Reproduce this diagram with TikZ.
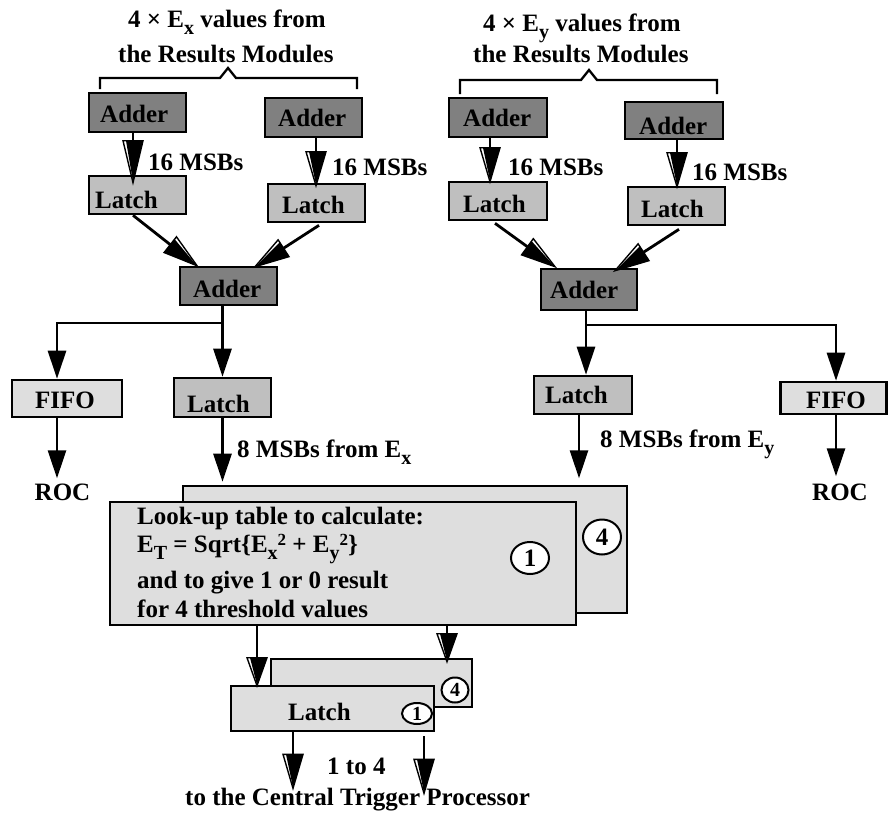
\documentclass[tikz,border=0pt]{standalone}
\usepackage{fontspec}
\setmainfont{Liberation Serif}
\usetikzlibrary{arrows.meta,calc,shapes.geometric}
\definecolor{addergray}{gray}{0.5}
\definecolor{latchgray}{gray}{0.75}
\definecolor{palegray}{gray}{0.87}
\newcommand\lsub[1]{\raisebox{-7pt}{\fontsize{20}{20}\selectfont #1}}
\newcommand\lsup[1]{\raisebox{7pt}{\fontsize{17}{17}\selectfont #1}}
\newcommand\mkhollow[5]{%
\pgfdeclarearrow{
  name=#1,
  parameters={},
  setup code={%
    \pgfarrowssettipend{0pt}%
    \pgfarrowssetlineend{-#4}%
    \pgfarrowssetvisualbackend{-#2}%
    \pgfarrowssetbackend{-#2}%
    \pgfarrowshullpoint{0pt}{0pt}%
    \pgfarrowshullpoint{-#2}{#3}%
    \pgfarrowshullpoint{-#2}{-#3}%
  },
  drawing code={%
    \pgfsetlinewidth{1.4pt}%
    \pgfsetmiterjoin
    \pgfsetfillcolor{white}%
    \pgfpathmoveto{\pgfpoint{0pt}{0pt}}%
    \pgfpathlineto{\pgfpoint{-#2}{#3}}%
    \pgfpathlineto{\pgfpoint{-#2}{-#3}}%
    \pgfpathclose
    \pgfusepathqfillstroke
    \pgfsetfillcolor{black}%
    \pgfpathmoveto{\pgfpoint{-1pt}{0pt}}%
    \pgfpathlineto{\pgfpoint{-#2}{#5*#3}}%
    \pgfpathlineto{\pgfpoint{-#2}{-0.7*#5*#3}}%
    \pgfpathclose
    \pgfusepathqfill
  }
}}
\mkhollow{hollowA}{42pt}{10pt}{41.5pt}{1}
\mkhollow{hollowB}{34pt}{10pt}{33.5pt}{1}
\mkhollow{hollowBm}{34pt}{10pt}{33.5pt}{-1}
\mkhollow{hollowC}{28pt}{10pt}{27.5pt}{1}
\tikzset{
  box/.style={draw, line width=2.6pt, inner sep=0pt, rectangle},
  lbl/.style={anchor=base west, inner sep=0pt, font=\bfseries\fontsize{25}{30}\selectfont},
  cbl/.style={anchor=base, inner sep=0pt, font=\bfseries\fontsize{25}{30}\selectfont},
  con/.style={line width=2.8pt},
  sol/.style={con, -{Triangle[length=28pt,width=18pt]}},
  hA/.style={con, -hollowA},
  hB/.style={con, -hollowB},
  hBm/.style={con, -hollowBm},
  hC/.style={con, -hollowC},
  brace/.style={line width=2.3pt},
  num/.style={draw, ellipse, fill=white, line width=2pt, inner sep=0pt, font=\bfseries\fontsize{25}{25}\selectfont},
  snum/.style={draw, ellipse, fill=white, line width=2pt, inner sep=0pt, font=\bfseries\fontsize{20}{20}\selectfont}
}
\begin{document}
\begin{tikzpicture}[x=1pt,y=-1pt]
\useasboundingbox (0,0) rectangle (889,814);
\fill[white] (0,0) rectangle (889,814);

% titles and braces
\node[lbl] (t1a) at (128,27) {4 × E\lsub{x} values from};
\node[lbl] (t1b) at (118,62) {the Results Modules};
\node[lbl] (t2a) at (483,31) {4 × E\lsub{y} values from};
\node[lbl] (t2b) at (473,62) {the Results Modules};
\draw[brace] (100,89) |- (220,78) -- (228,68) -- (236,78) -| (357,89);
\draw[brace] (460,94) |- (581,80) -- (589,70) -- (597,80) -| (717,94);

% boxes left
\node[box, fill=addergray, minimum width=97pt, minimum height=39pt] (a1) at (137.5,112.5) {};
\node[box, fill=latchgray, minimum width=97pt, minimum height=38pt] (l1) at (137.5,195) {};
\node[box, fill=addergray, minimum width=97pt, minimum height=39pt] (a2) at (313.5,117.5) {};
\node[box, fill=latchgray, minimum width=97pt, minimum height=38pt] (l2) at (316.5,203) {};
\node[box, fill=addergray, minimum width=97pt, minimum height=38pt] (a3) at (228.5,286) {};
\node[box, fill=palegray, minimum width=110pt, minimum height=37pt] (f1) at (67,398.5) {};
\node[box, fill=latchgray, minimum width=97pt, minimum height=39pt] (l3) at (222.5,397.5) {};
% boxes right
\node[box, fill=addergray, minimum width=98pt, minimum height=39pt] (a5) at (498,117.5) {};
\node[box, fill=latchgray, minimum width=98pt, minimum height=38pt] (l5) at (498,201) {};
\node[box, fill=addergray, minimum width=98pt, minimum height=37pt] (a6) at (674,120.5) {};
\node[box, fill=latchgray, minimum width=97pt, minimum height=38pt] (l6) at (676.5,206) {};
\node[box, fill=addergray, minimum width=96pt, minimum height=41pt] (a4) at (589,289.5) {};
\node[box, fill=latchgray, minimum width=98pt, minimum height=38pt] (l4) at (583,395) {};
\node[box, fill=palegray, minimum width=106pt, minimum height=32pt] (f2) at (833.5,398) {};

% box labels
\node[lbl] (ta1) at (100,122) {Adder};
\node[lbl] (tl1) at (95,208) {Latch};
\node[lbl] (ta2) at (278,126) {Adder};
\node[lbl] (tl2) at (282,213) {Latch};
\node[lbl] (ta3) at (193,297) {Adder};
\node[lbl] (tf1) at (35,408) {FIFO};
\node[lbl] (tl3) at (187,412) {Latch};
\node[lbl] (ta5) at (463,126) {Adder};
\node[lbl] (tl5) at (463,212) {Latch};
\node[lbl] (ta6) at (639,134) {Adder};
\node[lbl] (tl6) at (641,217) {Latch};
\node[lbl] (ta4) at (550,298) {Adder};
\node[lbl] (tl4) at (545,403) {Latch};
\node[lbl] (tf2) at (806,408) {FIFO};

% edge labels
\node[lbl] (m1) at (148,170) {16 MSBs};
\node[lbl] (m2) at (332,175) {16 MSBs};
\node[lbl] (m5) at (508,175) {16 MSBs};
\node[lbl] (m6) at (692,180) {16 MSBs};
\node[lbl] (mx) at (237,457) {8 MSBs from E\lsub{x}};
\node[lbl] (my) at (600,447) {8 MSBs from E\lsub{y}};
\node[cbl] (roc1) at (62.5,500) {ROC};
\node[cbl] (roc2) at (840,500) {ROC};

% connectors top
\draw[hA] ($(a1.south)+(-4.5,0)$) -- ($(l1.north)+(-4.5,8)$);
\draw[hB] ($(a2.south)+(2.5,0)$) -- ($(l2.north)+(-0.5,3)$);
\draw[hBm] ($(l1.south)+(-4.5,0)$) -- ($(a3.north)+(-31.5,0)$);
\draw[hB] ($(l2.south)+(2.5,2)$) -- ($(a3.north)+(26.5,1)$);
\draw[hB] ($(a5.south)+(-8,0)$) -- ($(l5.north)+(-8,1)$);
\draw[hB] ($(a6.south)+(3,0)$) -- ($(l6.north)+(0.5,1)$);
\draw[hBm] ($(l5.south)+(-3,2)$) -- ($(a4.north)+(-34,-1)$);
\draw[hB] ($(l6.south)+(2.5,3)$) -- ($(a4.north)+(26,3)$);

% connectors middle
\coordinate (j1) at (222.5,323);
\draw[con] (a3.south -| j1) -- (j1);
\draw[sol] (j1) -- (l3.north);
\draw[sol] (j1) -| ($(f1.north)+(-10,0)$);
\draw[sol] ($(f1.south)+(-10,0)$) -- ($(f1.south)+(-10,60)$);
\coordinate (j2) at (586,325);
\draw[con] (a4.south -| j2) -- (j2);
\draw[sol] (j2) -- (j2 |- l4.north);
\draw[sol] (j2) -| ($(f2.north)+(2.5,0)$);
\draw[sol] ($(f2.south)+(2.5,0)$) -- ($(f2.south)+(2.5,61)$);

% look-up tables and output latches
\node[box, fill=palegray, minimum width=444pt, minimum height=127pt] (lookBack) at (405,549.5) {};
\node[num, minimum width=38pt, minimum height=35pt] (c4) at (602,537) {4};
\node[box, fill=palegray, minimum width=201pt, minimum height=48pt] (latBack) at (371.5,683) {};
\node[snum, minimum width=27pt, minimum height=25pt] (c4b) at (455,690) {4};
\draw[hC] ($(lookBack.south)+(42,0)$) -- ($(latBack.north)+(75.5,4)$);
\node[box, fill=palegray, minimum width=466pt, minimum height=123pt] (lookFront) at (343,563.5) {};
\node[num, minimum width=38pt, minimum height=32pt] (c1) at (530,558) {1};
\node[lbl] (lk1) at (137,524) {Look-up table to calculate:};
\node[lbl] (lk2) at (137,552) {E\lsub{T} = Sqrt\{E\lsub{x}\lsup{2} + E\lsub{y}\lsup{2}\}};
\node[lbl] (lk3) at (137,588) {and to give 1 or 0 result};
\node[lbl] (lk4) at (137,617) {for 4 threshold values};
\node[box, fill=palegray, minimum width=203pt, minimum height=45pt] (latFront) at (332.5,708.5) {};
\node[snum, minimum width=30pt, minimum height=21pt] (c1b) at (417,713.5) {1};
\node[lbl] (tlf) at (288,720) {Latch};

\draw[sol, shorten >=3pt] (l3.south) -- (l3.south |- lookBack.north);
\draw[sol] ($(l4.south)+(-4,0)$) -- ($(l4.south)+(-4,63)$);
\draw[hC] ($(lookFront.south)+(-86,0)$) -- ($(latFront.north)+(-75.5,1)$);

\draw[hB] ($(latFront.south)+(-39.5,0)$) -- ($(latFront.south)+(-39.5,56)$);
\draw[hB] ($(latFront.south)+(91.5,4)$) -- ($(latFront.south)+(91.5,61)$);
\node[lbl] (out1) at (327,774) {1 to 4};
\node[lbl] (out2) at (185,805) {to the Central Trigger Processor};
\end{tikzpicture}
\end{document}
